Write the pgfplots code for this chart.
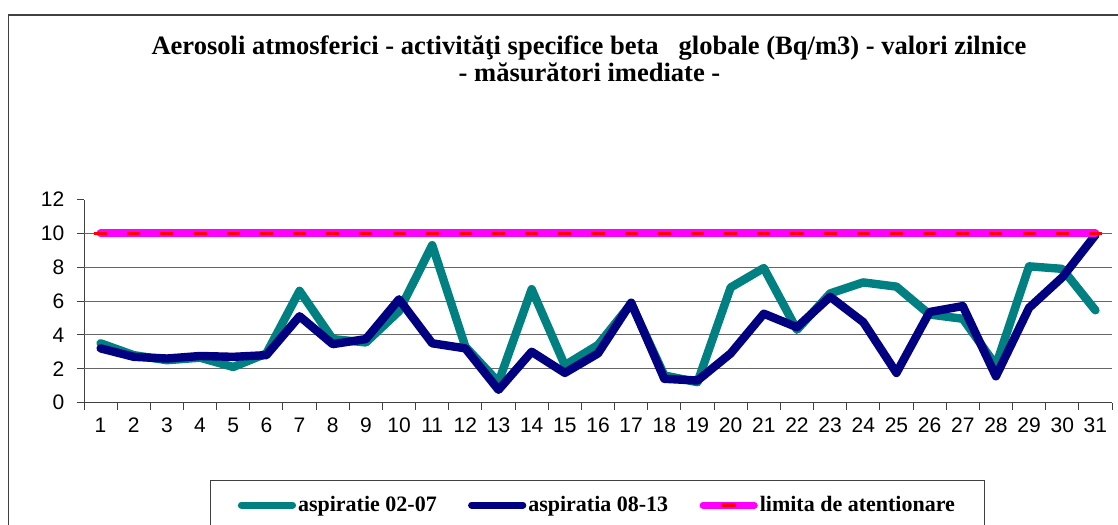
\documentclass[border=0pt]{standalone}
\usepackage{fontspec}
\setmainfont{Liberation Serif}
\newfontfamily\arialf{Liberation Sans}
\usepackage{pgfplots}
\pgfplotsset{compat=1.18}
\definecolor{cteal}{HTML}{008080}
\definecolor{cnavy}{HTML}{000080}
\definecolor{cmag}{HTML}{FF00FF}
\begin{document}
\begin{tikzpicture}
\path[use as bounding box, clip] (0pt,0pt) rectangle (838.5pt,-393.75pt);
\fill[white] (0pt,0pt) rectangle (838.5pt,-393.75pt);
\draw[black!75, line width=1.1pt] (6.5pt,-11.25pt) rectangle (860pt,-420pt);
\node[anchor=base, font=\bfseries\fontsize{19.9}{24}\selectfont] at (441.75pt,-40.5pt) {Aerosoli atmosferici - activităţi specifice beta\ \ \ globale (Bq/m3) - valori zilnice};
\node[anchor=base, font=\bfseries\fontsize{19.9}{24}\selectfont] at (442.1pt,-60.75pt) {- măsurători imediate -};
\begin{axis}[
  at={(63pt,-301.875pt)}, anchor=south west,
  scale only axis, width=771pt, height=152.25pt,
  xmin=0.5, xmax=31.5, ymin=0, ymax=12,
  axis x line*=bottom, axis y line*=left,
  axis line style={black!75, line width=0.75pt},
  xtick={1,...,31}, major x tick style={draw=none},
  minor xtick={0.5,1.5,...,31.5},
  ytick={0,2,...,12},
  extra y ticks={2,4,6,8,10}, extra y tick labels={},
  extra y tick style={grid=major, major grid style={black!60, line width=0.75pt}, major tick length=0pt},
  tick align=outside,
  major tick length=5.25pt, minor tick length=5.25pt,
  tick style={black!75, line width=0.75pt},
  tick label style={font=\arialf\fontsize{15.75}{18}\selectfont},
  yticklabel style={xshift=-6pt},
  xticklabel style={yshift=-2.6pt},
  /pgf/number format/assume math mode=true,
  clip=false,
  legend columns=3,
  legend style={at={(0.1226,-0.3818)}, anchor=north west, draw=black!75, line width=0.75pt,
    fill=white, font=\bfseries\fontsize{16.5}{19}\selectfont,
    inner xsep=20.5pt, inner ysep=10pt,
    nodes={inner xsep=1.5pt, inner ysep=2pt},
    /tikz/every even column/.append style={column sep=22pt}},
  legend cell align=left,
]
\addplot[cteal, line width=6.3pt, line join=round, line cap=round,
  legend image code/.code={\draw[cteal, line width=5.25pt, line cap=round] (2.6pt,0pt) -- (41pt,0pt);}]
  coordinates {(1,3.5)(2,2.8)(3,2.5)(4,2.65)(5,2.1)(6,2.9)(7,6.6)(8,3.75)(9,3.55)(10,5.4)
  (11,9.3)(12,3.3)(13,1.2)(14,6.7)(15,2.2)(16,3.4)(17,5.85)(18,1.6)(19,1.2)(20,6.8)
  (21,7.95)(22,4.3)(23,6.45)(24,7.1)(25,6.85)(26,5.2)(27,4.95)(28,2.2)(29,8.05)(30,7.9)(31,5.45)};
\addlegendentry{aspiratie 02-07}
\addplot[cnavy, line width=6.3pt, line join=round, line cap=round,
  legend image code/.code={\draw[cnavy, line width=5.25pt, line cap=round] (2.6pt,0pt) -- (41pt,0pt);}]
  coordinates {(1,3.2)(2,2.7)(3,2.6)(4,2.75)(5,2.7)(6,2.8)(7,5.1)(8,3.45)(9,3.75)(10,6.1)
  (11,3.5)(12,3.2)(13,0.75)(14,3.0)(15,1.75)(16,2.9)(17,5.9)(18,1.4)(19,1.3)(20,2.9)
  (21,5.25)(22,4.45)(23,6.25)(24,4.75)(25,1.75)(26,5.35)(27,5.7)(28,1.55)(29,5.6)(30,7.4)(31,9.9)};
\addlegendentry{aspiratia 08-13}
\addplot[cmag, line width=6pt, line cap=round, mark=-, mark size=4.9pt,
  mark options={red, line width=2.6pt, line cap=butt},
  legend image code/.code={\draw[cmag, line width=5.25pt, line cap=round] (2.6pt,0pt) -- (41pt,0pt);
    \draw[red, line width=2.6pt] (17.3pt,0pt) -- (26.3pt,0pt);}]
  coordinates {(1,10)(2,10)(3,10)(4,10)(5,10)(6,10)(7,10)(8,10)(9,10)(10,10)
  (11,10)(12,10)(13,10)(14,10)(15,10)(16,10)(17,10)(18,10)(19,10)(20,10)
  (21,10)(22,10)(23,10)(24,10)(25,10)(26,10)(27,10)(28,10)(29,10)(30,10)(31,10)};
\addlegendentry{limita de atentionare}
\end{axis}
\end{tikzpicture}
\end{document}
